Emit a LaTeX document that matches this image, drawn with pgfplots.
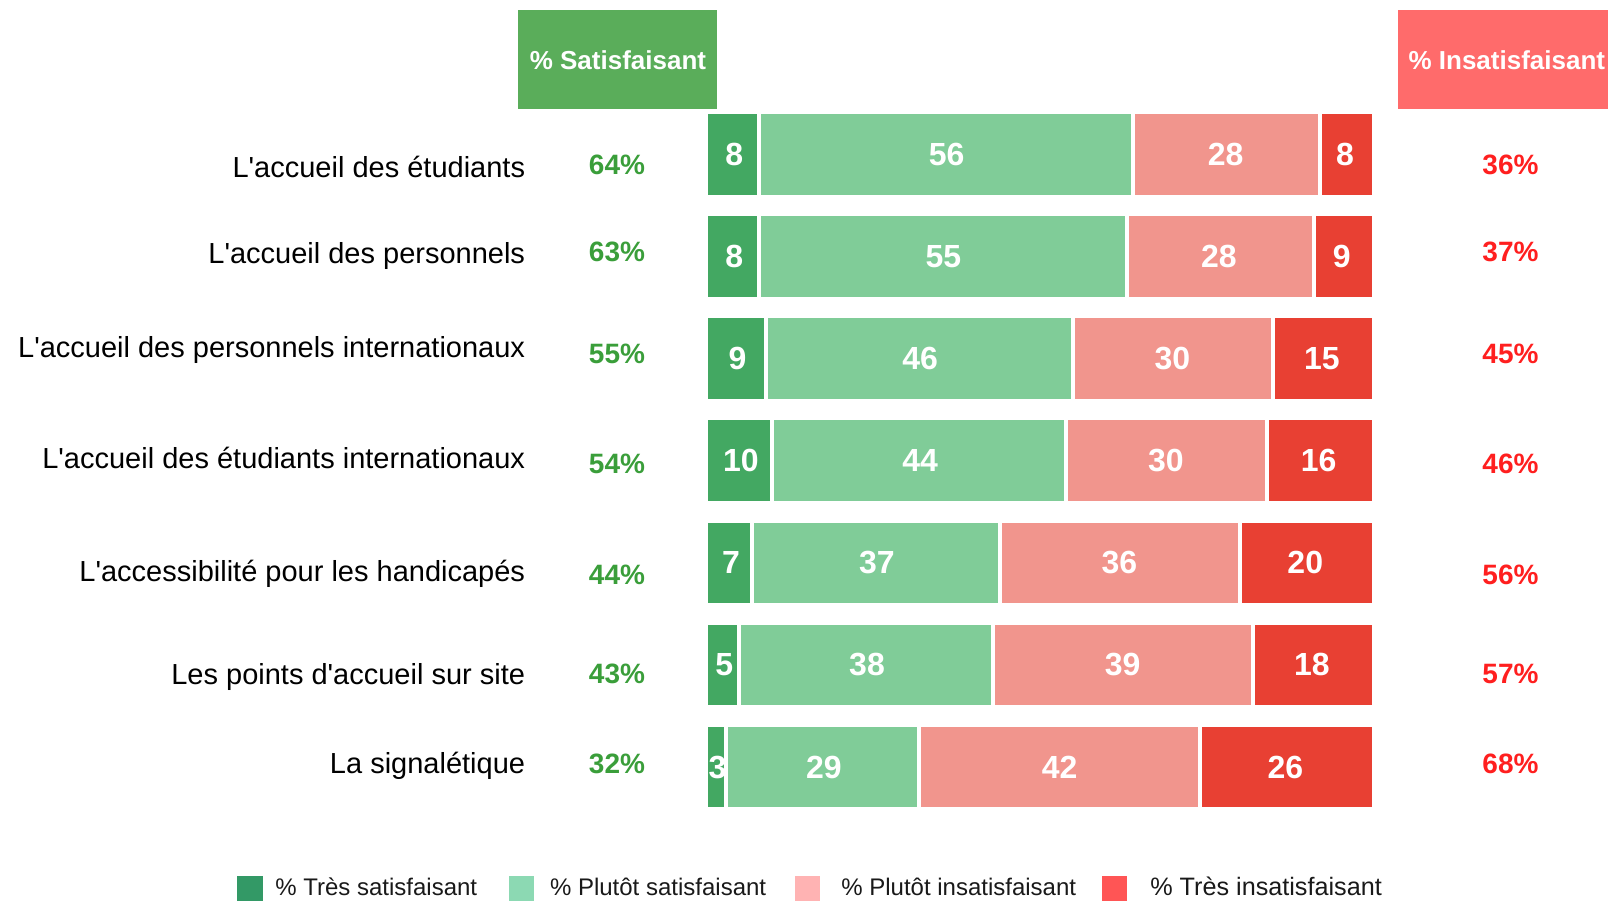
\documentclass[border=0pt]{standalone}
\usepackage{pgfplots}
\usepackage{pgfplotstable}
\usepackage{fontspec}
\setmainfont{Liberation Sans}
\pgfplotsset{compat=1.18}

\definecolor{tsat}{HTML}{43A862}
\definecolor{psat}{HTML}{80CC98}
\definecolor{pins}{HTML}{F1958D}
\definecolor{tins}{HTML}{E84033}
\definecolor{lgA}{HTML}{339966}
\definecolor{lgB}{HTML}{8CD9B3}
\definecolor{lgC}{HTML}{FFB3B3}
\definecolor{lgD}{HTML}{FF5555}
\definecolor{hdsat}{HTML}{5AAD5A}
\definecolor{hdins}{HTML}{FF6B6B}
\definecolor{pctsat}{HTML}{3A9E3A}
\definecolor{pctins}{HTML}{FF1F1F}

% row = position from the top; ts/ps/pi/ti = très sat., plutôt sat., plutôt insat., très insat.
\pgfplotstableread{
row ts ps pi ti
0   8  56 28 8
1   8  55 28 9
2   9  46 30 15
3   10 44 30 16
4   7  37 36 20
5   5  38 39 18
6   3  29 42 26
}\data
\pgfplotstablecreatecol[create col/expr={\thisrow{ts}/2}]{m1}{\data}
\pgfplotstablecreatecol[create col/expr={\thisrow{ts}+\thisrow{ps}/2}]{m2}{\data}
\pgfplotstablecreatecol[create col/expr={\thisrow{ts}+\thisrow{ps}+\thisrow{pi}/2}]{m3}{\data}
\pgfplotstablecreatecol[create col/expr={\thisrow{ts}+\thisrow{ps}+\thisrow{pi}+\thisrow{ti}/2}]{m4}{\data}

\pgfplotsset{
  base/.style={
    scale only axis, width=332pt, height=357.35pt,
    xmin=0, xmax=100, ymin=-0.5, ymax=6.5,
    y dir=reverse, hide axis, clip=false,
    /pgf/number format/assume math mode=true,
  },
  barlab/.style={draw=none, mark=none, point meta=explicit,
    nodes near coords,
    every node near coord/.style={anchor=center, text=white,
      font=\fontsize{16}{19}\selectfont\bfseries}},
}
\newcommand{\q}{\textquotesingle}

\begin{document}
\begin{tikzpicture}
% white separators eat 2px on each side, so this axis is 2px wider on both ends
\begin{axis}[base, width=334pt, xshift=-1pt, xbar stacked, bar width=0.83]
  \addplot[fill=tsat, draw=white, line width=2pt] table[x=ts, y=row] {\data};
  \addplot[fill=psat, draw=white, line width=2pt] table[x=ps, y=row] {\data};
  \addplot[fill=pins, draw=white, line width=2pt] table[x=pi, y=row] {\data};
  \addplot[fill=tins, draw=white, line width=2pt] table[x=ti, y=row] {\data};
\end{axis}

\begin{axis}[base]
  % page frame (1608 x 901 px)
  \path (axis cs:-106.58,-1.513) rectangle (axis cs:135.59,7.311);

  \addplot[barlab] table[x=m1, y=row, meta=ts] {\data};
  \addplot[barlab] table[x=m2, y=row, meta=ps] {\data};
  \addplot[barlab] table[x=m3, y=row, meta=pi] {\data};
  \addplot[barlab] table[x=m4, y=row, meta=ti] {\data};

  % headers
  \fill[hdsat] (axis cs:-28.52,-1.412) rectangle (axis cs:1.45,-0.446);
  \node[anchor=base, text=white, font=\fontsize{13}{15}\selectfont\bfseries]
    at (axis cs:-13.51,-0.828) {\% Satisfaisant};
  \fill[hdins] (axis cs:104.0,-1.412) rectangle (axis cs:135.59,-0.446);
  \node[anchor=base west, inner sep=0pt, text=white, font=\fontsize{13}{15}\selectfont\bfseries]
    at (axis cs:105.5,-0.828) {\% Insatisfaisant};

  % category labels
  \begin{scope}[every node/.style={anchor=base east, inner sep=0pt,
      font=\fontsize{14.5}{17}\selectfont}]
    \node at (axis cs:-27.44,0.230) {L\q accueil des étudiants};
    \node at (axis cs:-27.44,1.063) {L\q accueil des personnels};
    \node at (axis cs:-27.44,1.993) {L\q accueil des personnels internationaux};
    \node at (axis cs:-27.44,3.071) {L\q accueil des étudiants internationaux};
    \node at (axis cs:-27.44,4.187) {L\q accessibilité pour les handicapés};
    \node at (axis cs:-27.44,5.196) {Les points d\q accueil sur site};
    \node at (axis cs:-27.44,6.058) {La signalétique};
  \end{scope}

  % totals
  \begin{scope}[every node/.style={anchor=base, inner sep=0pt,
      font=\fontsize{14}{17}\selectfont\bfseries}]
    \node[text=pctsat] at (axis cs:-13.66,0.201) {64\%};
    \node[text=pctsat] at (axis cs:-13.66,1.053) {63\%};
    \node[text=pctsat] at (axis cs:-13.66,2.043) {55\%};
    \node[text=pctsat] at (axis cs:-13.66,3.124) {54\%};
    \node[text=pctsat] at (axis cs:-13.66,4.207) {44\%};
    \node[text=pctsat] at (axis cs:-13.66,5.186) {43\%};
    \node[text=pctsat] at (axis cs:-13.66,6.058) {32\%};
    \node[text=pctins] at (axis cs:120.9,0.201) {36\%};
    \node[text=pctins] at (axis cs:120.9,1.053) {37\%};
    \node[text=pctins] at (axis cs:120.9,2.043) {45\%};
    \node[text=pctins] at (axis cs:120.9,3.124) {46\%};
    \node[text=pctins] at (axis cs:120.9,4.207) {56\%};
    \node[text=pctins] at (axis cs:120.9,5.186) {57\%};
    \node[text=pctins] at (axis cs:120.9,6.058) {68\%};
  \end{scope}

  % legend
  \fill[lgA] (axis cs:-70.84,7.066) rectangle (axis cs:-67.02,7.311);
  \fill[lgB] (axis cs:-29.9,7.066) rectangle (axis cs:-26.1,7.311);
  \fill[lgC] (axis cs:13.2,7.066) rectangle (axis cs:16.97,7.311);
  \fill[lgD] (axis cs:59.34,7.066) rectangle (axis cs:63.1,7.311);
  \begin{scope}[every node/.style={anchor=base west, inner sep=0pt,
      text=black!90, font=\fontsize{12}{14}\selectfont}]
    \node at (axis cs:-65.17,7.255) {\% Très satisfaisant};
    \node at (axis cs:-23.8,7.255) {\% Plutôt satisfaisant};
    \node at (axis cs:20.07,7.255) {\% Plutôt insatisfaisant};
    \node[font=\fontsize{12.6}{14}\selectfont] at (axis cs:66.6,7.255) {\% Très insatisfaisant};
  \end{scope}
\end{axis}
\end{tikzpicture}
\end{document}
